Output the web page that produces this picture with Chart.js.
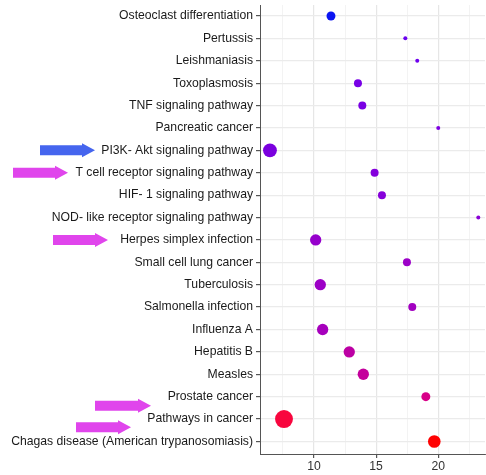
<!DOCTYPE html>
<html>
<head>
<meta charset="utf-8">
<script src="https://cdn.jsdelivr.net/npm/chart.js@4.4.1/dist/chart.umd.min.js"></script>
<style>
  html, body { margin: 0; padding: 0; background: #ffffff; }
  #wrap { width: 486px; height: 475px; }
</style>
</head>
<body>
<div id="wrap"><canvas id="c" width="486" height="475"></canvas></div>
<script>
// KEGG pathway enrichment, top to bottom
const pathways = [
  'Osteoclast differentiation',
  'Pertussis',
  'Leishmaniasis',
  'Toxoplasmosis',
  'TNF signaling pathway',
  'Pancreatic cancer',
  'PI3K- Akt signaling pathway',
  'T cell receptor signaling pathway',
  'HIF- 1 signaling pathway',
  'NOD- like receptor signaling pathway',
  'Herpes simplex infection',
  'Small cell lung cancer',
  'Tuberculosis',
  'Salmonella infection',
  'Influenza A',
  'Hepatitis B',
  'Measles',
  'Prostate cancer',
  'Pathways in cancer',
  'Chagas disease (American trypanosomiasis)'
];

// Rich factor (x axis)
const richFactor = [11.37, 17.35, 18.31, 13.54, 13.89, 20.0, 6.46, 14.88, 15.47, 23.22,
                    10.14, 17.48, 10.51, 17.91, 10.70, 12.84, 13.97, 19.0, 7.59, 19.68];

// Gene count per pathway (bubble size)
const geneCount = [5, 1, 1, 4, 4, 1, 12, 4, 4, 1,
                   8, 4, 8, 4, 8, 8, 8, 5, 20, 10];

// Fill colour per pathway (significance gradient blue -> red)
const pointColors = [
  '#0a14f2', '#6a00f0', '#6e00ee', '#7800e6', '#7a00e4', '#7e00e2', '#7a00de',
  '#8400dc', '#8600da', '#8a00d6', '#9600cc', '#9c00c8', '#9c00c6', '#a200c0',
  '#a600bc', '#bc00a4', '#c4009c', '#d80088', '#f8063e', '#fe0202'
];

// Arrow call-outs beside selected pathway labels: [row label, left px, right px, colour, row offset]
const arrows = [
  ['PI3K- Akt signaling pathway', 40, 95, '#4565ee', 0],
  ['T cell receptor signaling pathway', 13, 68, '#e045ec', 0],
  ['Herpes simplex infection', 53, 108, '#e045ec', 0],
  ['Prostate cancer', 95, 151, '#e045ec', 0.4],
  ['Pathways in cancer', 76, 131, '#e045ec', 0.36]
];

const xTickLabels = [10, 15, 20];

const points = richFactor.map((v, i) => ({ x: v, y: i }));
const radius = (n) => 2 * Math.sqrt(n);

const arrowPlugin = {
  id: 'labelArrows',
  afterDraw(chart) {
    const ctx = chart.ctx;
    const yScale = chart.scales.y;
    ctx.save();
    arrows.forEach(([label, x0, x1, color, shift]) => {
      const idx = pathways.indexOf(label);
      const y = yScale.getPixelForValue(idx + shift);
      const shaft = 5, head = 7, headLen = 13;
      ctx.fillStyle = color;
      ctx.beginPath();
      ctx.moveTo(x0, y - shaft);
      ctx.lineTo(x1 - headLen, y - shaft);
      ctx.lineTo(x1 - headLen, y - head);
      ctx.lineTo(x1, y);
      ctx.lineTo(x1 - headLen, y + head);
      ctx.lineTo(x1 - headLen, y + shaft);
      ctx.lineTo(x0, y + shaft);
      ctx.closePath();
      ctx.fill();
    });
    ctx.restore();
  }
};

const labelFont = { family: 'Liberation Sans, Arial, sans-serif', size: 12.2 };

new Chart(document.getElementById('c'), {
  type: 'scatter',
  data: {
    datasets: [{
      data: points,
      pointRadius: geneCount.map(radius),
      pointHoverRadius: geneCount.map(radius),
      backgroundColor: pointColors,
      borderColor: pointColors,
      borderWidth: 0,
      clip: false
    }]
  },
  options: {
    responsive: false,
    animation: false,
    layout: { autoPadding: false, padding: { top: 5, right: 1, left: 0, bottom: 0 } },
    plugins: { legend: { display: false }, tooltip: { enabled: false } },
    scales: {
      x: {
        type: 'linear',
        min: 5.66,
        max: 23.76,
        afterBuildTicks(scale) {
          scale.ticks = [7.5, 10, 12.5, 15, 17.5, 20, 22.5].map(v => ({ value: v }));
        },
        afterFit(scale) {
          scale.height = 21;
          scale.paddingLeft = 0;
          scale.paddingRight = 0;
        },
        ticks: {
          autoSkip: false,
          maxRotation: 0,
          padding: 1,
          color: '#333333',
          font: labelFont,
          callback: (v) => xTickLabels.includes(v) ? String(v) : ''
        },
        grid: {
          color: (c) => (c.tick && xTickLabels.includes(c.tick.value)) ? '#e6e6e6' : '#f0f0f0',
          lineWidth: (c) => (c.tick && xTickLabels.includes(c.tick.value)) ? 1.2 : 0.8,
          tickColor: (c) => (c.tick && xTickLabels.includes(c.tick.value)) ? '#555555' : 'rgba(0,0,0,0)',
          tickLength: 4,
          drawTicks: true
        },
        border: { display: true, color: '#555555', width: 1 }
      },
      y: {
        type: 'linear',
        reverse: true,
        min: -0.49,
        max: 19.56,
        afterBuildTicks(scale) {
          scale.ticks = pathways.map((_, i) => ({ value: i }));
        },
        afterFit(scale) {
          scale.width = 260;
          scale.paddingTop = 0;
          scale.paddingBottom = 0;
        },
        ticks: {
          autoSkip: false,
          padding: 3,
          color: '#1a1a1a',
          font: labelFont,
          callback: (v) => pathways[v]
        },
        grid: {
          color: '#ebebeb',
          lineWidth: 1.2,
          tickColor: '#555555',
          tickLength: 4
        },
        border: { display: true, color: '#555555', width: 1 }
      }
    }
  },
  plugins: [arrowPlugin]
});
</script>
</body>
</html>
